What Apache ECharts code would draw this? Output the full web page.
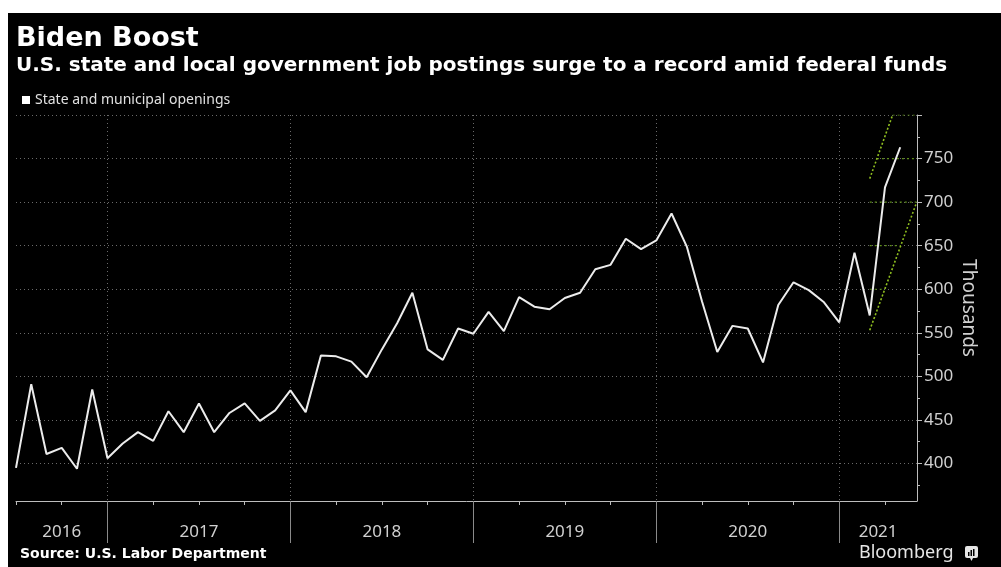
<!DOCTYPE html>
<html>
<head>
<meta charset="utf-8">
<script src="https://cdn.jsdelivr.net/npm/echarts@6/dist/echarts.min.js"></script>
<style>
html,body{margin:0;padding:0;background:#fff;}
#chart{width:1001px;height:567px;}
</style>
</head>
<body>
<div id="chart"></div>
<script>
// ---- data ----
var months = [
  '2016-07','2016-08','2016-09','2016-10','2016-11','2016-12',
  '2017-01','2017-02','2017-03','2017-04','2017-05','2017-06','2017-07','2017-08','2017-09','2017-10','2017-11','2017-12',
  '2018-01','2018-02','2018-03','2018-04','2018-05','2018-06','2018-07','2018-08','2018-09','2018-10','2018-11','2018-12',
  '2019-01','2019-02','2019-03','2019-04','2019-05','2019-06','2019-07','2019-08','2019-09','2019-10','2019-11','2019-12',
  '2020-01','2020-02','2020-03','2020-04','2020-05','2020-06','2020-07','2020-08','2020-09','2020-10','2020-11','2020-12',
  '2021-01','2021-02','2021-03','2021-04','2021-05'
];
var openings = [
  395,491,411,418,394,485,
  406,423,436,426,460,436,469,436,458,469,449,461,
  484,459,524,523,517,499,531,561,596,531,519,555,
  549,574,552,591,580,577,590,596,623,628,658,646,
  656,687,649,586,528,558,555,516,582,608,599,585,
  562,642,570,717,763
];
var yearLabels = ['2016','2017','2018','2019','2020','2021'];
var yTickLabels = [400,450,500,550,600,650,700,750];
var yGridValues = [400,450,500,550,600,650,700,750,800];
var yMinorValues = [375,425,475,525,575,625,675,725,775];
// trend channel annotation (month index from Jan 2017, value)
var channelUpper = [[50,727],[51.5,800]];
var channelLower = [[50,553],[53.06,699]];
var seriesName = 'State and municipal openings';

// ---- derived ----
var X_MIN = -6, X_MAX = 53.1, Y_MIN = 357, Y_MAX = 800;
function monthIndex(s){ var p = s.split('-'); return (+p[0]-2017)*12 + (+p[1]-1); }
var lineData = months.map(function(m,i){ return [monthIndex(m), openings[i]]; });
var yearStarts = [];
for (var k=1;k<yearLabels.length;k++) yearStarts.push((+yearLabels[k]-2017)*12);
var bounds = [X_MIN].concat(yearStarts).concat([X_MAX]);
var yearMids = [];
for (var k=0;k<yearLabels.length;k++) yearMids.push((bounds[k]+bounds[k+1])/2);
var quarterTicks = [];
for (var q=X_MIN;q<=X_MAX;q+=3) quarterTicks.push(q);

function xAt(seg, v){ var a=seg[0], b=seg[1]; return a[0] + (v-a[1])*(b[0]-a[0])/(b[1]-a[1]); }
var greenSegs = [];
yGridValues.forEach(function(v){
  if (v < channelLower[0][1]) return;
  var l = Math.max(channelUpper[0][0], xAt(channelUpper, v));
  var r = Math.min(X_MAX, xAt(channelLower, v));
  if (r > l) greenSegs.push([[l,v],[r,v]]);
});

var GREEN = '#8fbf1f';
var series = [{
  name: seriesName, type: 'line', data: lineData, showSymbol: false, symbol: 'none',
  lineStyle: {color:'#ececec', width:2}, itemStyle:{color:'#ffffff'}, z: 5, silent: true
},{
  name: 'upper', type:'line', data: channelUpper, showSymbol:false, symbol:'none',
  lineStyle:{color:GREEN, width:1.6, type:[2,2]}, z:4, silent:true
},{
  name: 'lower', type:'line', data: channelLower, showSymbol:false, symbol:'none',
  lineStyle:{color:GREEN, width:1.6, type:[2,2]}, z:4, silent:true
}];
greenSegs.forEach(function(s){
  series.push({type:'line', data:s, showSymbol:false, symbol:'none',
    lineStyle:{color:'#5f8f1a', width:1.2, type:[2,3]}, z:3, silent:true});
});

var chart = echarts.init(document.getElementById('chart'), null, {renderer:'canvas'});
chart.setOption({
  backgroundColor: '#ffffff',
  animation: false,
  grid: {left:16, right:84, top:115, bottom:66, containLabel:false},
  legend: {
    data:[seriesName], left:22, top:93, icon:'rect', itemWidth:8, itemHeight:8, itemGap:6,
    textStyle:{color:'#e0e0e0', fontSize:14, fontFamily:'Noto Sans'}, padding:0
  },
  xAxis: [{
    type:'value', min:X_MIN, max:X_MAX, position:'bottom',
    axisLine:{show:true, onZero:false, lineStyle:{color:'#bdbdbd', width:1}},
    axisTick:{show:true, customValues: quarterTicks, length:4, inside:false, lineStyle:{color:'#bdbdbd'}},
    axisLabel:{show:true, customValues: yearMids, margin:23, color:'#d0d0d0', fontSize:17, fontFamily:'Noto Sans',
      formatter:function(v){ var i = yearMids.indexOf(v); return i>=0 ? yearLabels[i] : ''; }},
    splitLine:{show:false}
  },{
    type:'value', min:X_MIN, max:X_MAX, position:'bottom',
    axisLine:{show:false, onZero:false},
    axisTick:{show:true, customValues: yearStarts, length:42, inside:false, lineStyle:{color:'#8a8a8a'}},
    axisLabel:{show:false},
    splitLine:{show:true, lineStyle:{color:'#6a6a6a', width:1, type:[1,3]}}
  }],
  yAxis: [{
    type:'value', min:Y_MIN, max:Y_MAX, position:'right',
    axisLine:{show:true, onZero:false, lineStyle:{color:'#bdbdbd', width:1}},
    axisTick:{show:true, customValues: yGridValues, length:5, inside:false, lineStyle:{color:'#bdbdbd'}},
    axisLabel:{show:true, customValues: yTickLabels, margin:7, color:'#d0d0d0', fontSize:17, fontFamily:'Noto Sans'},
    splitLine:{show:true, lineStyle:{color:'#6a6a6a', width:1, type:[1,3]}}
  },{
    type:'value', min:Y_MIN, max:Y_MAX, position:'right',
    axisLine:{show:false, onZero:false},
    axisTick:{show:true, customValues: yMinorValues, length:3, inside:false, lineStyle:{color:'#bdbdbd'}},
    axisLabel:{show:false}, splitLine:{show:false}
  }],
  series: series,
  graphic: [
    {type:'rect', z:-100, shape:{x:8, y:13, width:993, height:554}, style:{fill:'#000000'}, silent:true},
    {type:'text', x:16, y:39, style:{text:'Biden Boost', fill:'#ffffff', font:'bold 27px "DejaVu Sans"', verticalAlign:'middle'}},
    {type:'text', x:16, y:66, style:{text:'U.S. state and local government job postings surge to a record amid federal funds', fill:'#ffffff', font:'bold 20px "DejaVu Sans"', verticalAlign:'middle'}},
    {type:'text', x:20, y:554, style:{text:'Source: U.S. Labor Department', fill:'#ffffff', font:'bold 14px "DejaVu Sans"', verticalAlign:'middle'}},
    {type:'text', x:859, y:553, style:{text:'Bloomberg', fill:'#e6e6e6', font:'18px "Noto Sans"', verticalAlign:'middle'}},
    {type:'text', x:968, y:308, rotation:-Math.PI/2, style:{text:'Thousands', fill:'#d0d0d0', font:'19px "Noto Sans"', align:'center', verticalAlign:'middle'}},
    {type:'group', x:965, y:546, children:[
      {type:'rect', shape:{x:0, y:0, width:13, height:12, r:2}, style:{fill:'#e6e6e6'}},
      {type:'polygon', shape:{points:[[5,12],[8,12],[6.5,15]]}, style:{fill:'#e6e6e6'}},
      {type:'rect', shape:{x:3, y:6, width:1.5, height:4}, style:{fill:'#000'}},
      {type:'rect', shape:{x:5.5, y:4, width:1.5, height:6}, style:{fill:'#000'}},
      {type:'rect', shape:{x:8, y:3, width:1.5, height:7}, style:{fill:'#000'}}
    ]}
  ]
});
</script>
</body>
</html>
